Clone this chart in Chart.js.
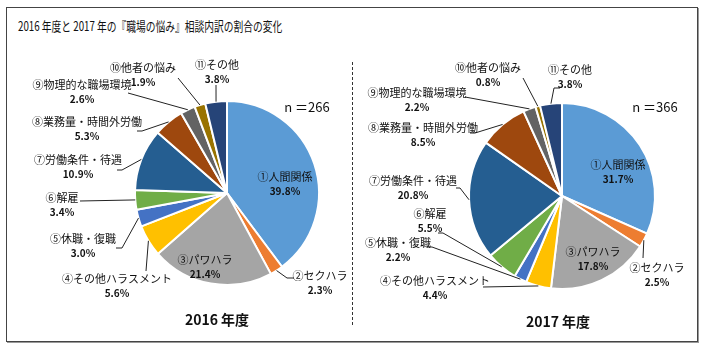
<!DOCTYPE html>
<html>
<head>
<meta charset="utf-8">
<script src="https://cdn.jsdelivr.net/npm/chart.js@4.4.1/dist/chart.umd.min.js"></script>
<style>
  body { margin: 0; background: #fff; }
  #wrap { position: relative; width: 705px; height: 350px; overflow: hidden; }
  #frame { position: absolute; left: 6px; top: 7px; width: 690px; height: 333px; border: 1px solid #444; box-shadow: 1px 1px 0 #999; }
  #title { position: absolute; left: 18px; top: 16px; font: 13px "Liberation Sans Narrow", "Noto Sans CJK JP", sans-serif; color: #111; white-space: nowrap; transform: scaleX(0.75); transform-origin: left center; }
  #divider { position: absolute; left: 352px; top: 62px; height: 263px; border-left: 1px dashed #333; }
  canvas { position: absolute; top: 0; }
</style>
</head>
<body>
<div id="wrap">
  <div id="frame"></div>
  <div id="title">2016 年度と 2017 年の『職場の悩み』相談内訳の割合の変化</div>
  <div id="divider"></div>
  <canvas id="c2016" width="352" height="350" style="left:0"></canvas>
  <canvas id="c2017" width="353" height="350" style="left:352px"></canvas>
</div>
<script>
// ---- data ----
const categories = ['①人間関係', '②セクハラ', '③パワハラ', '④その他ハラスメント', '⑤休職・復職', '⑥解雇',
  '⑦労働条件・待遇', '⑧業務量・時間外労働', '⑨物理的な職場環境', '⑩他者の悩み', '⑪その他'];
const values2016 = [39.8, 2.3, 21.4, 5.6, 3.0, 3.4, 10.9, 5.3, 2.6, 1.9, 3.8];
const values2017 = [31.7, 2.5, 17.8, 4.4, 2.2, 5.5, 20.8, 8.5, 2.2, 0.8, 3.8];
const colors = ['#5B9BD5', '#ED7D31', '#A5A5A5', '#FFC000', '#4472C4', '#70AD47',
  '#255E91', '#9E480E', '#636363', '#997300', '#264478'];

// label placement (canvas coords): text centre, leader bend point, stub end
const layout2016 = [
  { tx: 285, ty: 177, inside: true },
  { tx: 320, ty: 276, ax: 287, ay: 278, sx: 294 },
  { tx: 205, ty: 260, inside: true },
  { tx: 117, ty: 279, ax: 146, ay: 271 },
  { tx: 83, ty: 239, ax: 122, ay: 248, sx: 116 },
  { tx: 62, ty: 198, ax: 80, ay: 201 },
  { tx: 78, ty: 160, ax: 122, ay: 170, sx: 117 },
  { tx: 87, ty: 122, ax: 142, ay: 131, sx: 137 },
  { tx: 82, ty: 85, ax: 128, ay: 93 },
  { tx: 143, ty: 68, ax: 178, ay: 78 },
  { tx: 217, ty: 65, ax: 216, ay: 85 }
];
const layout2017 = [
  { tx: 266, ty: 165, inside: true },
  { tx: 305, ty: 268, ax: 291, ay: 258 },
  { tx: 241, ty: 252, inside: true },
  { tx: 83, ty: 281, ax: 131, ay: 287 },
  { tx: 46, ty: 243, ax: 80, ay: 247, sx: 75 },
  { tx: 78, ty: 214, ax: 91, ay: 233, sx: 86 },
  { tx: 61, ty: 181, ax: 108, ay: 188, sx: 104 },
  { tx: 71, ty: 128, ax: 123, ay: 133, sx: 118 },
  { tx: 65, ty: 93, ax: 113, ay: 97 },
  { tx: 136, ty: 68, ax: 171, ay: 78 },
  { tx: 218, ty: 70, ax: 202, ay: 88, sx: 208 }
];

const FONT = '"Liberation Sans Narrow", "Noto Sans CJK JP", sans-serif';

const labelPlugin = {
  id: 'pieLabels',
  afterDraw(chart, args, opts) {
    const ctx = chart.ctx;
    const meta = chart.getDatasetMeta(0);
    const vals = chart.data.datasets[0].data;
    ctx.save();
    ctx.textAlign = 'center';
    ctx.textBaseline = 'middle';
    ctx.fillStyle = '#111';
    ctx.strokeStyle = '#222';
    ctx.lineWidth = 1;
    opts.layout.forEach((l, i) => {
      const arc = meta.data[i];
      if (!l.inside) {
        const mid = (arc.startAngle + arc.endAngle) / 2;
        const px = arc.x + Math.cos(mid) * arc.outerRadius;
        const py = arc.y + Math.sin(mid) * arc.outerRadius;
        ctx.beginPath();
        ctx.moveTo(px, py);
        ctx.lineTo(l.ax, l.ay);
        if (l.sx !== undefined) ctx.lineTo(l.sx, l.ay);
        ctx.stroke();
      }
      ctx.font = '11px ' + FONT;
      ctx.fillText(categories[i], l.tx, l.ty);
      ctx.font = 'bold 10px ' + FONT;
      ctx.fillText(vals[i].toFixed(1) + '%', l.tx, l.ty + 14);
    });
    ctx.font = '13px ' + FONT;
    ctx.fillText(opts.nText, opts.nX, opts.nY);
    ctx.font = 'bold 14px ' + FONT;
    ctx.fillText(opts.yearText, opts.yearX, opts.yearY);
    ctx.restore();
  }
};

function makePie(id, values, layout, padding, nText, nX, nY, yearText, yearX, yearY) {
  return new Chart(document.getElementById(id), {
    type: 'pie',
    data: {
      labels: categories,
      datasets: [{ data: values, backgroundColor: colors, borderColor: '#fff', borderWidth: 2 }]
    },
    options: {
      responsive: false,
      animation: false,
      layout: { padding: padding },
      plugins: {
        legend: { display: false },
        tooltip: { enabled: false },
        pieLabels: { layout, nText, nX, nY, yearText, yearX, yearY }
      }
    },
    plugins: [labelPlugin]
  });
}

makePie('c2016', values2016, layout2016, { left: 134, right: 32, top: 100, bottom: 64 },
  'n ＝266', 307, 107, '2016 年度', 217, 320);
makePie('c2017', values2017, layout2017, { left: 116, right: 49, top: 102, bottom: 60 },
  'n ＝366', 303, 107, '2017 年度', 206, 322);
</script>
</body>
</html>
